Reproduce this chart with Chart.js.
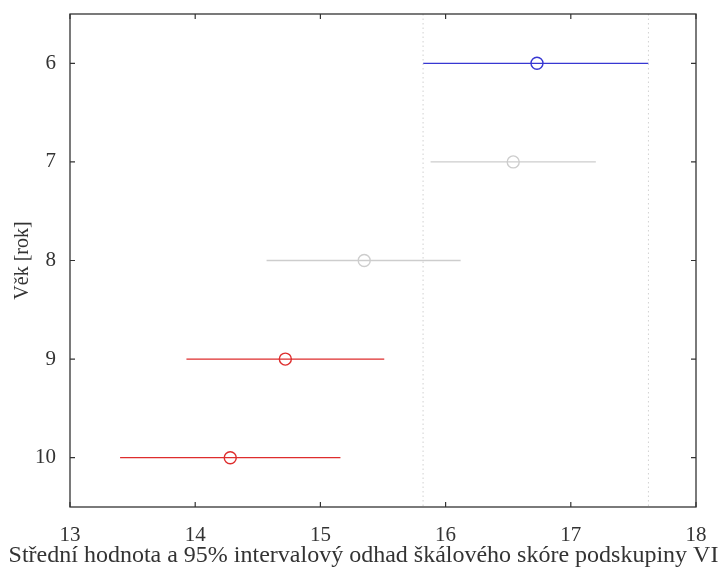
<!DOCTYPE html>
<html>
<head>
<meta charset="utf-8">
<script src="https://cdn.jsdelivr.net/npm/chart.js@4"></script>
<style>
  html, body { margin: 0; padding: 0; background: #fff; }
  #wrap { width: 727px; height: 571px; }
</style>
</head>
<body>
<div id="wrap"><canvas id="c"></canvas></div>
<script>
// age groups (years) and their mean + 95% interval
const ages = [6, 7, 8, 9, 10];
const means = [16.73, 16.54, 15.35, 14.72, 14.28];
const lows = [15.82, 15.88, 14.57, 13.93, 13.40];
const highs = [17.62, 17.20, 16.12, 15.51, 15.16];
const colors = ['rgb(55,55,210)', 'rgb(205,205,205)', 'rgb(205,205,205)', 'rgb(222,45,45)', 'rgb(222,45,45)'];
const xTicks = [13, 14, 15, 16, 17, 18];
const yTicks = [6, 7, 8, 9, 10];

const serif = "'Liberation Serif', 'DejaVu Serif', serif";
const ink = '#333';

const datasets = [];

// dotted guides at the bounds of the first group's interval
[lows[0], highs[0]].forEach(v => {
  datasets.push({
    data: [{ x: v, y: 5.5 }, { x: v, y: 10.5 }],
    showLine: true,
    borderColor: 'rgb(210,210,210)',
    borderWidth: 1,
    borderDash: [1.5, 3],
    pointRadius: 0
  });
});

ages.forEach((age, i) => {
  datasets.push({
    data: [{ x: lows[i], y: age }, { x: highs[i], y: age }],
    showLine: true,
    borderColor: colors[i],
    borderWidth: 1.3,
    pointRadius: 0
  });
  datasets.push({
    data: [{ x: means[i], y: age }],
    showLine: false,
    pointStyle: 'circle',
    pointRadius: 6,
    borderColor: colors[i],
    backgroundColor: 'rgba(0,0,0,0)',
    pointBorderWidth: 1.4
  });
});

// box around the plot with ticks pointing inward on all four sides
const frame = {
  id: 'frame',
  afterDraw(chart) {
    const { ctx, chartArea: a, scales: { x, y } } = chart;
    const len = 5;
    ctx.save();
    ctx.strokeStyle = ink;
    ctx.lineWidth = 1.3;
    ctx.strokeRect(a.left, a.top, a.right - a.left, a.bottom - a.top);
    ctx.lineWidth = 1.2;
    ctx.beginPath();
    xTicks.forEach(v => {
      const px = x.getPixelForValue(v);
      ctx.moveTo(px, a.bottom); ctx.lineTo(px, a.bottom - len);
      ctx.moveTo(px, a.top); ctx.lineTo(px, a.top + len);
    });
    yTicks.forEach(v => {
      const py = y.getPixelForValue(v);
      ctx.moveTo(a.left, py); ctx.lineTo(a.left + len, py);
      ctx.moveTo(a.right, py); ctx.lineTo(a.right - len, py);
    });
    ctx.stroke();
    ctx.restore();
  }
};

new Chart(document.getElementById('c'), {
  type: 'scatter',
  data: { datasets },
  plugins: [frame],
  options: {
    responsive: true,
    maintainAspectRatio: false,
    animation: false,
    layout: { padding: { left: 0, top: 14, right: 0, bottom: 0 } },
    plugins: {
      legend: { display: false },
      tooltip: { enabled: false },
      // x-axis caption is wider than the plot, so it goes in the full-width title box
      title: {
        display: true,
        position: 'bottom',
        text: 'Střední hodnota a 95% intervalový odhad škálového skóre podskupiny VI',
        color: ink,
        font: { family: serif, size: 24, weight: 'normal' },
        padding: { top: 0, bottom: 1 }
      }
    },
    scales: {
      x: {
        type: 'linear',
        min: 13,
        max: 18,
        afterBuildTicks: s => { s.ticks = xTicks.map(v => ({ value: v })); },
        afterFit: s => { s.height = 34.2; s.paddingRight = 0; },
        grid: { display: false, drawTicks: false },
        border: { display: false },
        ticks: { color: ink, padding: 16, font: { family: serif, size: 21 } }
      },
      y: {
        type: 'linear',
        reverse: true,
        min: 5.5,
        max: 10.5,
        afterBuildTicks: s => { s.ticks = yTicks.map(v => ({ value: v })); },
        afterFit: s => { s.width = 70; s.paddingTop = 0; s.paddingBottom = 0; },
        grid: { display: false, drawTicks: false },
        border: { display: false },
        ticks: { color: ink, padding: 14, font: { family: serif, size: 21 } },
        title: {
          display: true,
          text: 'Věk [rok]',
          color: ink,
          font: { family: serif, size: 20 },
          padding: { top: 11, bottom: 0 }
        }
      },
      // empty right-hand strip keeping the plot clear of the canvas edge
      yRight: {
        type: 'linear',
        position: 'right',
        min: 5.5,
        max: 10.5,
        afterFit: s => { s.width = 31; s.paddingTop = 0; s.paddingBottom = 0; },
        grid: { display: false, drawTicks: false },
        border: { display: false },
        ticks: { display: false }
      }
    }
  }
});
</script>
</body>
</html>
